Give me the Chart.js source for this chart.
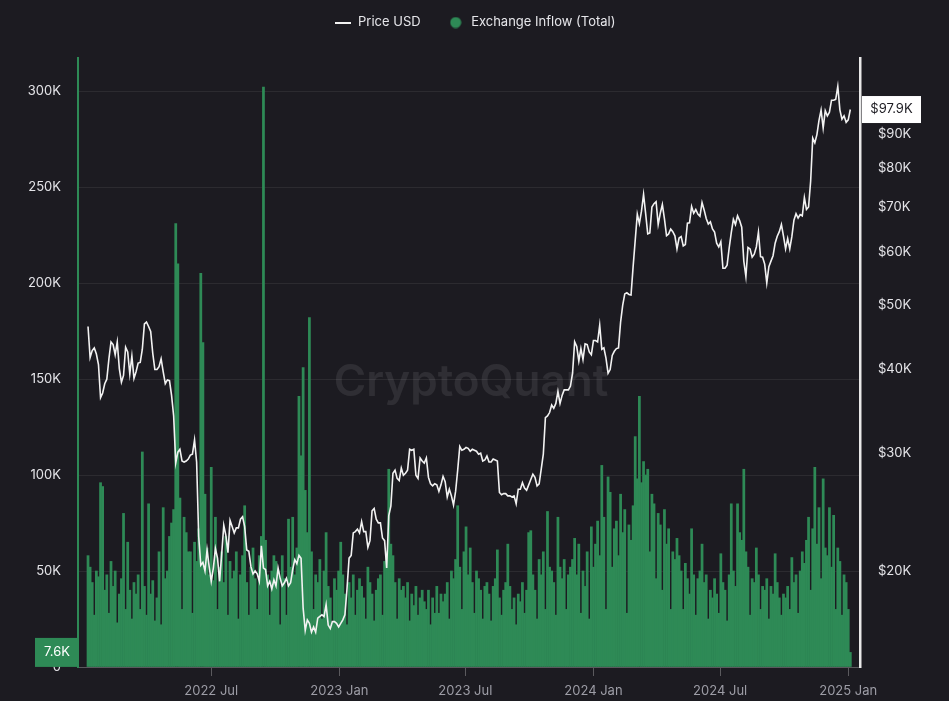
<!DOCTYPE html>
<html>
<head>
<meta charset="utf-8">
<title>Exchange Inflow (Total) vs Price USD</title>
<script src="https://cdn.jsdelivr.net/npm/chart.js@4.4.1/dist/chart.umd.min.js"></script>
<style>
  html, body { margin: 0; padding: 0; background: #1c1b21; }
  #wrap { width: 949px; height: 701px; }
</style>
</head>
<body>
<div id="wrap"><canvas id="chart" width="949" height="701"></canvas></div>
<script>
// one sample every 3 days, day 0 = 2022-01-05
const STEP_DAYS = 3;

// Exchange inflow (total), thousands
const inflowK = [
  58, 52, 44, 27, 50, 47, 96, 94, 40,
  48, 28, 55, 42, 50, 23, 38, 46, 80, 30,
  65, 40, 25, 44, 38, 48, 30, 112, 42, 27,
  85, 38, 45, 24, 36, 60, 22, 83, 46, 50,
  68, 75, 82, 231, 210, 88, 30, 78, 70, 60,
  60, 28, 65, 55, 72, 205, 169, 90, 62, 48,
  104, 45, 78, 30, 52, 60, 44, 68, 27, 55, 46,
  50, 60, 25, 48, 58, 84, 44, 27, 52, 62,
  46, 30, 58, 68, 302, 66, 48, 27, 50, 58,
  55, 50, 22, 58, 46, 27, 77, 52, 78, 48,
  62, 141, 110, 156, 92, 70, 182, 60, 30, 48,
  44, 56, 25, 50, 70, 42, 36, 23, 46, 40, 50,
  65, 48, 38, 22, 44, 36, 48, 27, 40, 46,
  42, 36, 25, 52, 44, 38, 24, 40, 46,
  48, 27, 55, 60, 103, 64, 58, 44, 25, 46, 40,
  42, 36, 44, 24, 38, 32, 42, 27, 36, 40,
  34, 30, 40, 22, 36, 28, 42, 28, 38, 34,
  38, 44, 25, 50, 46, 56, 84, 52, 30, 60,
  73, 48, 62, 44, 28, 50, 46, 40, 25, 42,
  44, 38, 24, 42, 46, 61, 36, 27, 40, 44, 64,
  42, 30, 36, 22, 38, 34, 44, 28, 40, 70,
  71, 48, 40, 25, 56, 48, 60, 30, 81, 52,
  50, 44, 27, 78, 52, 46, 56, 30, 48, 52,
  56, 67, 48, 64, 28, 50, 42, 60, 25, 73,
  52, 64, 76, 58, 105, 78, 30, 99, 91, 52, 72,
  76, 58, 90, 70, 82, 28, 74, 66, 84,
  120, 98, 141, 96, 107, 100, 103, 60, 90, 85, 46,
  80, 74, 40, 82, 64, 72, 30, 60, 56, 67,
  58, 50, 30, 54, 46, 38, 72, 48, 27, 46,
  50, 64, 44, 48, 25, 40, 36, 46, 38, 28,
  59, 44, 40, 24, 48, 85, 50, 42, 85, 70,
  66, 103, 60, 52, 27, 46, 44, 62, 48, 30, 42,
  40, 46, 25, 42, 38, 59, 44, 36, 27, 38,
  36, 42, 30, 57, 44, 48, 28, 50, 60, 54,
  66, 78, 40, 72, 104, 64, 83, 46, 98, 62,
  58, 83, 52, 79, 30, 62, 55, 27, 48, 44,
  30, 7.6
];

// BTC price, thousands of USD
const priceK = [
  46.4, 41.7, 42.7, 43.1, 42.2, 40.7, 36.3, 36.9, 38.1,
  38.7, 41.5, 44.0, 43.6, 42.1, 44.0, 40.1, 38.3, 39.2, 43.2,
  42.5, 39.4, 41.9, 38.8, 39.7, 40.9, 41.0, 42.9, 46.8, 47.1,
  46.4, 45.6, 42.3, 40.0, 40.0, 40.4, 41.5, 39.7, 38.1, 38.6,
  38.5, 36.6, 34.1, 29.0, 30.1, 30.4, 29.2, 29.1, 29.2, 29.4,
  29.8, 29.9, 31.4, 29.1, 22.5, 20.4, 20.6, 20.0, 21.5, 20.3,
  19.3, 20.2, 21.6, 20.9, 19.3, 21.2, 23.4, 22.6, 21.3, 23.8, 23.3,
  22.8, 23.2, 23.2, 23.9, 24.1, 23.3, 21.5, 21.4, 20.3, 19.8,
  20.0, 19.8, 19.3, 21.8, 20.2, 20.1, 19.0, 19.3, 18.8, 19.4,
  19.0, 20.2, 19.5, 19.0, 19.2, 19.5, 19.0, 19.2, 20.1, 20.8,
  20.5, 21.1, 20.9, 17.6, 16.3, 16.9, 16.7, 16.2, 16.5, 16.2,
  17.0, 17.1, 17.2, 17.1, 17.8, 16.6, 16.4, 16.8, 16.8, 16.7, 16.5,
  16.7, 16.9, 17.2, 18.8, 20.9, 21.1, 22.8, 22.9, 23.1, 22.8,
  23.7, 22.9, 22.9, 21.7, 22.2, 24.6, 24.8, 23.9, 23.6,
  23.6, 22.4, 22.2, 20.2, 24.2, 25.0, 28.0, 28.3, 27.5, 27.3, 28.5,
  27.8, 28.0, 28.3, 30.4, 30.3, 30.4, 27.8, 27.5, 29.5, 29.2,
  29.0, 29.5, 27.6, 27.0, 26.8, 27.0, 26.9, 26.3, 26.9, 27.7,
  27.2, 25.8, 26.5, 25.9, 25.1, 26.3, 28.3, 30.7, 30.3, 30.4,
  30.6, 30.5, 30.2, 30.4, 30.3, 30.2, 29.9, 30.0, 29.2, 29.3,
  29.7, 29.1, 29.1, 29.4, 29.3, 29.2, 26.2, 26.0, 26.1, 26.1, 25.9,
  25.9, 25.8, 25.9, 25.2, 26.5, 26.5, 27.1, 26.6, 26.4, 26.9,
  27.4, 27.9, 27.6, 26.8, 27.0, 28.4, 29.9, 33.9, 34.1, 34.5,
  35.4, 35.0, 35.6, 37.1, 35.6, 36.6, 37.3, 37.3, 37.3, 37.8,
  39.5, 44.0, 43.3, 41.2, 43.0, 41.4, 43.7, 43.6, 42.5, 42.1,
  44.2, 44.2, 44.0, 46.6, 42.9, 43.1, 41.6, 39.5, 40.0, 42.0, 42.6,
  43.0, 43.1, 47.1, 49.9, 51.9, 52.1, 51.8, 51.7, 57.0,
  62.4, 68.3, 66.1, 69.0, 73.1, 68.4, 63.8, 64.0, 70.0, 70.8, 71.3,
  65.9, 68.5, 70.6, 67.2, 63.4, 63.8, 64.9, 64.3, 63.4, 60.6,
  62.9, 63.2, 61.2, 61.5, 66.2, 66.3, 70.1, 68.5, 69.4, 68.3,
  67.8, 71.1, 69.3, 67.3, 66.0, 66.5, 64.9, 64.2, 61.8, 61.0,
  62.1, 56.7, 56.7, 57.3, 60.8, 64.1, 67.1, 65.9, 67.9, 66.8,
  65.3, 58.1, 55.1, 60.9, 60.6, 58.9, 59.5, 61.0, 64.2, 59.0, 58.9,
  57.5, 53.9, 57.0, 58.1, 59.2, 61.8, 63.3, 64.3, 65.9, 63.3,
  60.6, 62.8, 60.6, 63.2, 66.9, 68.4, 67.4, 68.2, 67.9, 72.3,
  69.4, 70.0, 76.5, 88.7, 87.3, 89.8, 94.3, 97.7, 91.9, 97.5,
  95.8, 97.0, 101.1, 101.1, 101.4, 106.0, 97.8, 94.7, 95.8, 93.7,
  94.5, 97.9
];

// x tick positions (days since 2022-01-05) and their labels
const monthTicks = [177, 361, 542, 726, 908, 1092];
const monthLabels = ['2022 Jul', '2023 Jan', '2023 Jul', '2024 Jan', '2024 Jul', '2025 Jan'];
const inflowTicks = [0, 50, 100, 150, 200, 250, 300];
const priceTicks = [20, 30, 40, 50, 60, 70, 80, 90];

const GREEN = '#2e8a56';
const LINE = '#f2f2f2';

Chart.defaults.font.family = 'Inter, "Noto Sans", sans-serif';
Chart.defaults.font.size = 13;

// legend markers as small canvases
function marker(w, h, draw) {
    const c = document.createElement('canvas');
    c.width = w;
    c.height = h;
    draw(c.getContext('2d'));
    return c;
}
const lineMarker = marker(16, 2, ctx => {
    ctx.fillStyle = LINE;
    ctx.fillRect(0, 0, 16, 2);
});
const dotMarker = marker(12, 12, ctx => {
    ctx.fillStyle = GREEN;
    ctx.beginPath();
    ctx.arc(6, 6, 5.5, 0, Math.PI * 2);
    ctx.fill();
});

const kFmt = v => (v === 0 ? '0' : v + 'K');

// keep the legend strip at a fixed height
const legendHeight = {
    id: 'legendHeight',
    beforeLayout(chart) {
        const lg = chart.legend;
        if (!lg || lg._fixed) return;
        const fit = lg.fit.bind(lg);
        lg.fit = function () {
            fit();
            this.height = 68;
        };
        lg._fixed = true;
    }
};

// watermark + last value tags
const decorations = {
    id: 'decorations',
    beforeDatasetsDraw(chart) {
        const { ctx, chartArea: a } = chart;
        ctx.save();
        ctx.font = '600 44px Inter, sans-serif';
        ctx.fillStyle = 'rgba(255,255,255,0.085)';
        ctx.textAlign = 'center';
        ctx.textBaseline = 'middle';
        ctx.fillText('CryptoQuant', a.left + a.width * 0.5026, a.top + a.height * 0.534);
        ctx.restore();
    },
    afterDraw(chart) {
        const { ctx, chartArea: a, scales } = chart;
        ctx.save();
        ctx.font = '13px Inter, sans-serif';
        ctx.textAlign = 'center';
        ctx.textBaseline = 'middle';

        const lastInflow = inflowK[inflowK.length - 1];
        const yI = scales.yVol.getPixelForValue(lastInflow);
        ctx.fillStyle = GREEN;
        ctx.fillRect(a.left - 43, yI - 14.5, 44, 29);
        ctx.fillStyle = '#ffffff';
        ctx.fillText(lastInflow.toFixed(1) + 'K', a.left - 21, yI);

        const lastPrice = priceK[priceK.length - 1];
        const yP = scales.yPrice.getPixelForValue(lastPrice);
        ctx.fillStyle = '#ffffff';
        ctx.fillRect(a.right + 2, yP - 13.5, 59, 27);
        ctx.fillStyle = '#1c1b21';
        ctx.fillText('$' + lastPrice.toFixed(1) + 'K', a.right + 31.5, yP);
        ctx.restore();
    }
};

new Chart(document.getElementById('chart'), {
    type: 'bar',
    data: {
        datasets: [
            {
                type: 'line',
                label: 'Price USD',
                data: priceK.map((v, i) => ({ x: i * STEP_DAYS, y: v })),
                yAxisID: 'yPrice',
                borderColor: LINE,
                borderWidth: 1.6,
                pointRadius: 0,
                pointStyle: lineMarker,
                tension: 0
            },
            {
                type: 'bar',
                label: 'Exchange Inflow (Total)',
                data: inflowK.map((v, i) => ({ x: i * STEP_DAYS, y: v })),
                yAxisID: 'yVol',
                backgroundColor: GREEN,
                borderWidth: 0,
                barPercentage: 1,
                categoryPercentage: 1,
                pointStyle: dotMarker
            }
        ]
    },
    options: {
        responsive: false,
        maintainAspectRatio: false,
        animation: false,
        events: [],
        layout: { padding: { top: -10, left: 0, right: 0, bottom: 0 } },
        plugins: {
            tooltip: { enabled: false },
            legend: {
                position: 'top',
                align: 'center',
                labels: {
                    usePointStyle: true,
                    pointStyleWidth: 18,
                    boxHeight: 12,
                    padding: 26,
                    color: '#e6e6ea',
                    font: { size: 13 }
                }
            }
        },
        scales: {
            x: {
                type: 'linear',
                min: -14.4,
                max: 1108.9,
                offset: false,
                grid: {
                    display: true,
                    offset: false,
                    drawOnChartArea: false,
                    drawTicks: true,
                    tickLength: 9,
                    color: 'rgba(255,255,255,0.28)'
                },
                border: { display: true, color: 'rgba(255,255,255,0.22)', width: 1 },
                ticks: {
                    color: '#9d9da6',
                    padding: 7,
                    maxRotation: 0,
                    autoSkip: false,
                    callback: v => {
                        const k = monthTicks.indexOf(v);
                        return k >= 0 ? monthLabels[k] : '';
                    }
                },
                afterBuildTicks: s => { s.ticks = monthTicks.map(v => ({ value: v })); },
                afterFit: s => { s.height = 34; }
            },
            yVol: {
                type: 'linear',
                position: 'left',
                min: 0,
                max: 317.2,
                grid: { color: 'rgba(255,255,255,0.07)', drawTicks: false },
                border: { display: true, color: GREEN, width: 2 },
                ticks: { color: '#e4e4e8', padding: 17, callback: kFmt },
                afterBuildTicks: s => { s.ticks = inflowTicks.map(v => ({ value: v })); },
                afterFit: s => { s.width = 78; }
            },
            yPrice: {
                type: 'logarithmic',
                position: 'right',
                min: 14.37,
                max: 116.9,
                grid: { display: false, drawTicks: false },
                border: { display: true, color: '#e8e8e8', width: 2.5 },
                ticks: { color: '#e4e4e8', padding: 18, callback: v => '$' + v + 'K' },
                afterBuildTicks: s => { s.ticks = priceTicks.map(v => ({ value: v })); },
                afterFit: s => { s.width = 89; }
            }
        }
    },
    plugins: [legendHeight, decorations]
});
</script>
</body>
</html>
